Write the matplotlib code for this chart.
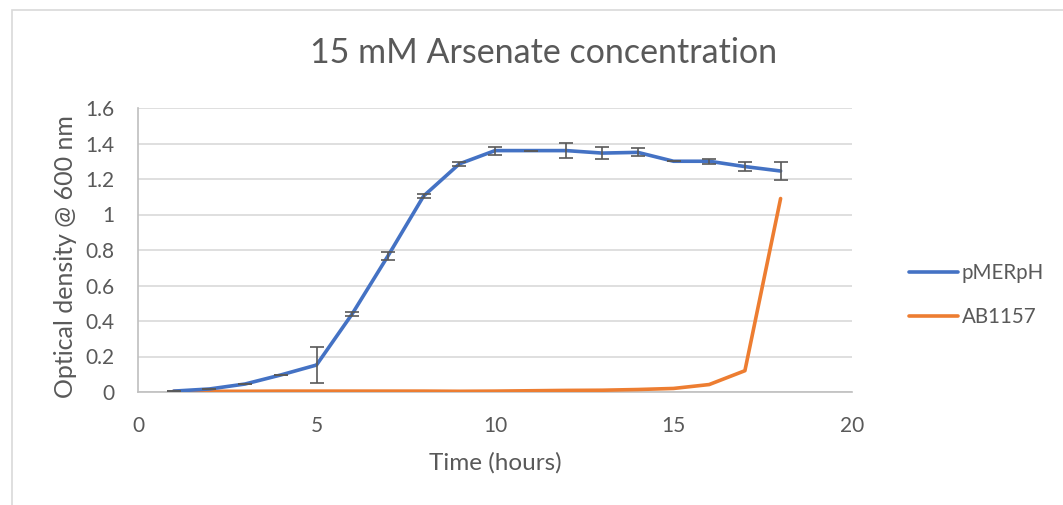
import matplotlib
matplotlib.use("Agg")
import matplotlib.pyplot as plt
from matplotlib.patches import Rectangle
from matplotlib.lines import Line2D

plt.rcParams['font.family'] = ['Lato', 'DejaVu Sans']

time_h = [1, 2, 3, 4, 5, 6, 7, 8, 9, 10, 11, 12, 13, 14, 15, 16, 17, 18]
pmerph = [0.005, 0.017, 0.045, 0.096, 0.152, 0.44, 0.766, 1.104, 1.285, 1.36,
          1.36, 1.36, 1.346, 1.35, 1.30, 1.30, 1.27, 1.245]
pmerph_err = [0.0, 0.0, 0.0, 0.0, 0.10, 0.012, 0.02, 0.012, 0.012, 0.022,
              0.0, 0.042, 0.035, 0.022, 0.0, 0.015, 0.025, 0.048]
ab1157 = [0.004, 0.004, 0.004, 0.005, 0.005, 0.005, 0.005, 0.005, 0.004, 0.005,
          0.007, 0.009, 0.010, 0.014, 0.020, 0.042, 0.12, 1.09]

W, H = 1063, 505
fig = plt.figure(figsize=(W / 100, H / 100), dpi=100)
fig.patch.set_facecolor('white')

# chart border
fig.add_artist(Rectangle((12 / W, -0.1), 1.2, 1 - 10 / H + 0.1, transform=fig.transFigure,
                         fill=False, edgecolor='#d9d9d9', linewidth=1.2))

ax = fig.add_axes([138 / W, 1 - 392 / H, (852 - 138) / W, (392 - 108) / H])
grey = '#595959'
ax.plot(time_h, ab1157, color='#ed7d31', linewidth=2.6, solid_capstyle='round', zorder=3)
ax.plot(time_h, pmerph, color='#4472c4', linewidth=2.6, solid_capstyle='round', zorder=4)
ax.errorbar(time_h, pmerph, yerr=pmerph_err, fmt='none', ecolor=grey, elinewidth=1.2,
            capsize=5, capthick=1.2, zorder=5)

ax.set_xlim(0, 20)
ax.set_ylim(0, 1.6)
ax.set_xticks([0, 5, 10, 15, 20])
ax.set_yticks([0, 0.2, 0.4, 0.6, 0.8, 1.0, 1.2, 1.4, 1.6])
ax.set_yticklabels(['0', '0.2', '0.4', '0.6', '0.8', '1', '1.2', '1.4', '1.6'])
ax.grid(axis='y', color='#d9d9d9', linewidth=1.2)
ax.set_axisbelow(True)
for s in ['top', 'right']:
    ax.spines[s].set_visible(False)
ax.spines['left'].set_color('#bfbfbf')
ax.spines['bottom'].set_color('#bfbfbf')
ax.spines['left'].set_linewidth(1.2)
ax.spines['bottom'].set_linewidth(1.2)
ax.tick_params(axis='both', length=0, labelsize=15, colors=grey)
ax.tick_params(axis='y', pad=17)
ax.tick_params(axis='x', pad=17)

ax.set_xlabel('Time (hours)', fontsize=17.5, color=grey, labelpad=12)
ax.set_ylabel('Optical density @ 600 nm', fontsize=18, color=grey)
ax.yaxis.set_label_coords((77 - 138) / (852 - 138), (392 - 257) / (392 - 108))
fig.text(544 / W, 1 - 63 / H, '15 mM Arsenate concentration', fontsize=24.5, color=grey,
         ha='center', va='baseline')

handles = [Line2D([], [], color='#4472c4', linewidth=2.6, solid_capstyle='round'),
           Line2D([], [], color='#ed7d31', linewidth=2.6, solid_capstyle='round')]
fig.legend(handles, ['pMERpH', 'AB1157'], loc='center left',
           bbox_to_anchor=(890 / W, 1 - 295 / H), frameon=False, fontsize=14.8,
           labelcolor=grey, handlelength=2.4, handletextpad=0.2, labelspacing=1.15)

fig.savefig('out.png', dpi=100, facecolor='white')
